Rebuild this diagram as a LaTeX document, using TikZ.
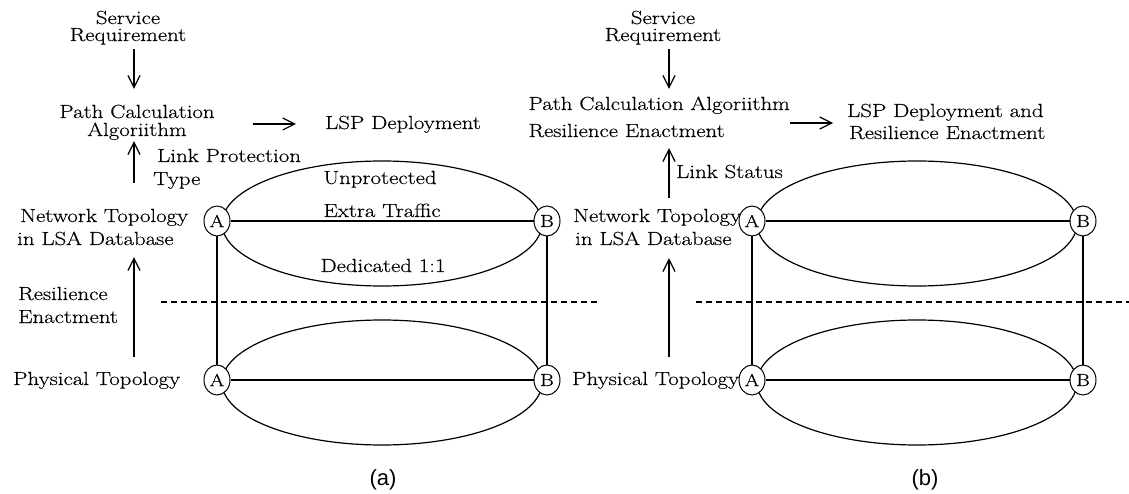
\documentclass[tikz,border=0pt]{standalone}
\usepackage{fontspec}
\setmainfont{Latin Modern Roman}[FakeStretch=1.2, FakeBold=0.35]
\newfontfamily\labfont{Liberation Sans}
\usetikzlibrary{arrows.meta,shapes.geometric,calc}
\begin{document}
\begin{tikzpicture}[x=1pt,y=-1pt,
  txt/.style={font=\fontsize{19}{22}\selectfont, inner sep=0pt, text height=14pt, text depth=4pt, anchor=base west},
  ctxt/.style={txt, anchor=base},
  tight/.style={ctxt, text height=12.5pt, text depth=2.5pt},
  tighttop/.style={tight, text depth=1pt},
  tightbot/.style={tight, text height=11pt},
  arr/.style={line width=1.2pt, -{Straight Barb[length=12pt,width=12pt,line width=1.2pt]}},
  ln/.style={line width=1.2pt},
  nd/.style={ellipse, draw, line width=1pt, fill=white, minimum width=26pt, minimum height=30pt, inner sep=0pt, font=\fontsize{17.5}{18}\selectfont},
  blob/.style={line width=1.2pt},
  sepline/.style={line width=1.2pt, dash pattern=on 6pt off 4pt},
  figlabel/.style={font=\labfont\fontsize{22}{24}\selectfont, inner sep=0pt, anchor=base}]
\useasboundingbox (0,0) rectangle (1129,494);
\coordinate (axa) at (134,0);
\coordinate (axb) at (669,0);

% ================= (a) =================
\node[tighttop] (sr1) at (128,24) {Service};
\node[tightbot] (sr2) at (128,41) {Requirement};
\node[tighttop] (pc1) at (137,118) {Path Calculation};
\node[tightbot] (pc2) at (137,136) {Algoriithm};
\node[txt] (lsp) at (325,129) {LSP Deployment};
\node[txt] (lp1) at (157,162) {Link Protection};
\node[txt] (lp2) at (153,185) {Type};
\node[txt] (nt1) at (20,222) {Network Topology};
\node[txt] (nt2) at (17,245) {in LSA Database};
\node[txt] (re1) at (18,300) {Resilience};
\node[txt] (re2) at (18,323) {Enactment};
\node[txt] (pt) at (13,385) {Physical Topology};

\draw[arr, shorten <=5.5pt, shorten >=16.5pt] (axa |- sr2.south) -- (axa |- pc1.north);
\draw[arr, shorten <=38pt, shorten >=29pt] (pc1.east |- lsp.west) -- (lsp.west);
\draw[arr, shorten <=25pt, shorten >=2.5pt] (axa |- nt1.north) -- (axa |- pc2.south);
\draw[arr, shorten <=14pt, shorten >=8pt] (axa |- pt.north) -- (axa |- nt2.south);

\draw[sepline] (161,302) -- (600,302);

\draw[blob] (382,223.5) ellipse [x radius=160pt, y radius=62.5pt];
\draw[blob] (382,382.5) ellipse [x radius=160pt, y radius=62.5pt];

\node[ctxt] (up) at (380,184) {Unprotected};
\node[ctxt] (et) at (382,217) {Extra Traffic};
\node[ctxt] (dd) at (383,272) {Dedicated 1:1};

\node[nd] (au) at (217,221) {A};
\node[nd] (bu) at (547,221) {B};
\node[nd] (al) at (217,380) {A};
\node[nd] (bl) at (547,380) {B};
\draw[ln] (au) -- (bu);
\draw[ln] (al) -- (bl);
\draw[ln] (au) -- (al);
\draw[ln] (bu) -- (bl);

\node[figlabel] (capa) at (383,485) {(a)};

% ================= (b) =================
\node[tighttop] (sbr1) at (663,24) {Service};
\node[tightbot] (sbr2) at (663,41) {Requirement};
\node[txt, anchor=base east] (pcb1) at (790,110) {Path Calculation Algoriithm};
\node[txt] (pcb2) at ([yshift=-27pt]pcb1.base west) {Resilience Enactment};
\node[txt] (lspb1) at (847,117) {LSP Deployment and};
\node[txt] (lspb2) at (849,139) {Resilience Enactment};
\coordinate (lspbm) at ($(lspb1.west)!0.5!(lspb2.west)$);
\node[txt] (ls) at (676,178) {Link Status};
\node[txt] (ntb1) at (573,222) {Network Topology};
\node[txt] (ntb2) at (575,245) {in LSA Database};
\node[txt] (ptb) at (572,385) {Physical Topology};

\draw[arr, shorten <=5.5pt, shorten >=7pt] (axb |- sbr2.south) -- (axb |- pcb1.north);
\draw[arr, shorten >=15pt] (pcb1.east |- lspbm) -- (lspbm);
\draw[arr, shorten <=10pt, shorten >=7pt] (axb |- ntb1.north) -- (axb |- pcb2.south);
\draw[arr, shorten <=14pt, shorten >=9pt] (axb |- ptb.north) -- (axb |- ntb2.south);

\draw[sepline] (696,302) -- (1129,302);

\draw[blob] (917,223.5) ellipse [x radius=160pt, y radius=62.5pt];
\draw[blob] (917,382.5) ellipse [x radius=160pt, y radius=62.5pt];

\node[nd] (aub) at (752,221) {A};
\node[nd] (bub) at (1083,221) {B};
\node[nd] (alb) at (752,380) {A};
\node[nd] (blb) at (1083,380) {B};
\draw[ln] (aub) -- (bub);
\draw[ln] (alb) -- (blb);
\draw[ln] (aub) -- (alb);
\draw[ln] (bub) -- (blb);

\node[figlabel] (capb) at (925,485) {(b)};
\end{tikzpicture}
\end{document}
